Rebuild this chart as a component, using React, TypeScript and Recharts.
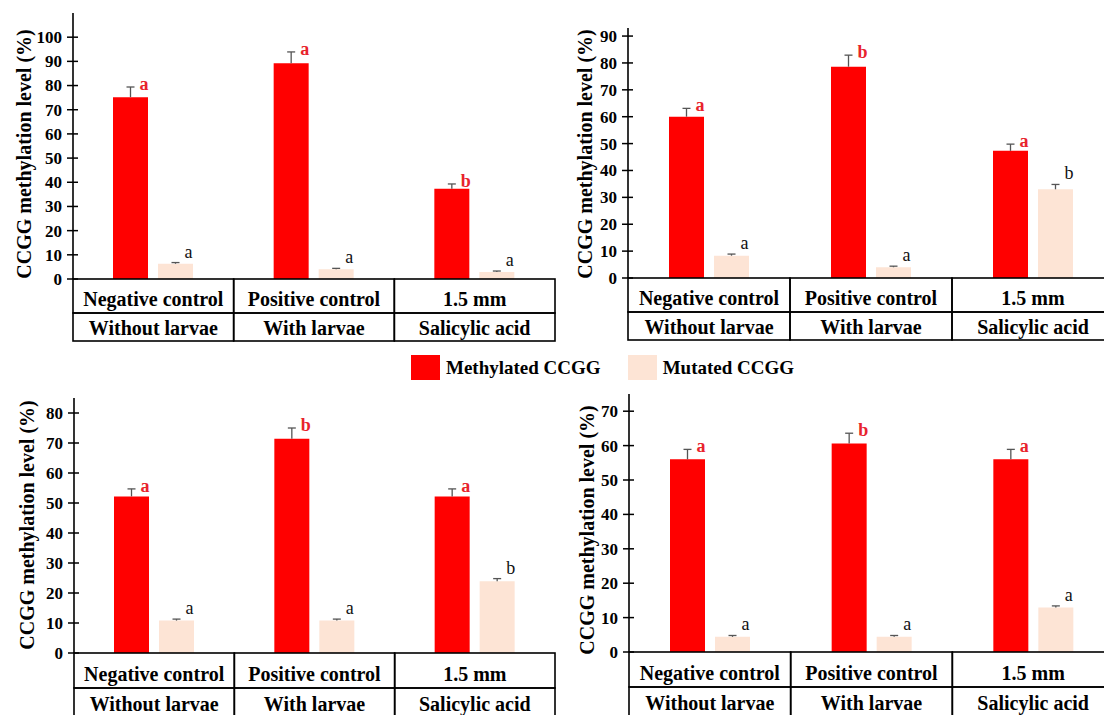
import React from "react";
import { BarChart, Bar, XAxis, YAxis, LabelList, Label } from "recharts";

const FONT = '"Liberation Serif", "Times New Roman", serif';
const RED = "#ff0000";
const PEACH = "#fde4d5";
const LETTER_RED = "#e8232c";

const categories = ["Negative control", "Positive control", "1.5 mm"];
const subCategories = ["Without larvae", "With larvae", "Salicylic acid"];
const seriesNames = ["Methylated CCGG", "Mutated CCGG"];
const yAxisTitle = "CCGG methylation level (%)";

// top left
const p1Methylated = [75.2, 89.2, 37.3];
const p1MethylatedErr = [4.2, 4.7, 2.0];
const p1Mutated = [6.3, 4.0, 2.9];
const p1MutatedErr = [0.5, 0.4, 0.4];
const p1MethylLetters = ["a", "a", "b"];
const p1MutLetters = ["a", "a", "a"];
const p1Ticks = [0, 10, 20, 30, 40, 50, 60, 70, 80, 90, 100];

// top right
const p2Methylated = [60.0, 78.6, 47.3];
const p2MethylatedErr = [3.1, 4.3, 2.5];
const p2Mutated = [8.3, 4.0, 33.0];
const p2MutatedErr = [0.6, 0.4, 1.8];
const p2MethylLetters = ["a", "b", "a"];
const p2MutLetters = ["a", "a", "b"];
const p2Ticks = [0, 10, 20, 30, 40, 50, 60, 70, 80, 90];

// bottom left
const p3Methylated = [52.2, 71.4, 52.2];
const p3MethylatedErr = [2.5, 3.6, 2.5];
const p3Mutated = [10.8, 10.8, 23.9];
const p3MutatedErr = [0.5, 0.5, 0.9];
const p3MethylLetters = ["a", "b", "a"];
const p3MutLetters = ["a", "a", "b"];
const p3Ticks = [0, 10, 20, 30, 40, 50, 60, 70, 80];

// bottom right
const p4Methylated = [56.0, 60.6, 56.0];
const p4MethylatedErr = [2.9, 3.0, 2.9];
const p4Mutated = [4.4, 4.4, 12.9];
const p4MutatedErr = [0.4, 0.4, 0.5];
const p4MethylLetters = ["a", "b", "a"];
const p4MutLetters = ["a", "a", "a"];
const p4Ticks = [0, 10, 20, 30, 40, 50, 60, 70];

type Row = {
  name: string;
  methylated: number;
  methylatedErr: number;
  mutated: number;
  mutatedErr: number;
  methylLetter: string;
  mutLetter: string;
};

function buildRows(
  meth: number[],
  methErr: number[],
  mut: number[],
  mutErr: number[],
  methL: string[],
  mutL: string[]
): Row[] {
  return categories.map((name, i) => ({
    name,
    methylated: meth[i],
    methylatedErr: methErr[i],
    mutated: mut[i],
    mutatedErr: mutErr[i],
    methylLetter: methL[i],
    mutLetter: mutL[i],
  }));
}

const TICK_SIZE = 6;
const TICK_MARGIN = 5;

function YTick(props: any) {
  const { x, y, payload } = props;
  const axisX = x + TICK_SIZE + TICK_MARGIN;
  return (
    <g>
      <line x1={axisX - 6} x2={axisX + 5} y1={y} y2={y} stroke="#000" strokeWidth={1.5} />
      <text
        x={x}
        y={y}
        dy="0.35em"
        textAnchor="end"
        fontFamily={FONT}
        fontWeight="bold"
        fontSize={17}
        fill="#000"
      >
        {payload.value}
      </text>
    </g>
  );
}

function tableTick(rowH: [number, number]) {
  return (props: any) => {
    const { x, y, payload, width, index } = props;
    const band = payload && payload.offset ? payload.offset * 2 : width / categories.length;
    const left = x - band / 2;
    const textStyle = { fontFamily: FONT, fontWeight: "bold" as const, fontSize: 20 };
    return (
      <g>
        <rect x={left} y={y} width={band} height={rowH[0]} fill="none" stroke="#000" strokeWidth={1.6} />
        <rect x={left} y={y + rowH[0]} width={band} height={rowH[1]} fill="none" stroke="#000" strokeWidth={1.6} />
        <text x={x} y={y + rowH[0] - 7} textAnchor="middle" fill="#000" style={textStyle}>
          {payload.value}
        </text>
        <text x={x} y={y + rowH[0] + rowH[1] - 6} textAnchor="middle" fill="#000" style={textStyle}>
          {subCategories[index]}
        </text>
      </g>
    );
  };
}

// upper whisker + significance letter, placed from the bar's own geometry
function errAndLetter(rows: Row[], key: "methylated" | "mutated") {
  return (props: any) => {
    const { x, y, width, height, index } = props;
    const row = rows[index];
    if (!row) return null;
    const val = row[key];
    const err = key === "methylated" ? row.methylatedErr : row.mutatedErr;
    const topY = y - (err * height) / val;
    const cx = x + width / 2;
    const red = key === "methylated";
    return (
      <g>
        <line x1={cx} x2={cx} y1={y} y2={topY} stroke="#555" strokeWidth={1.3} />
        <line x1={cx - 4} x2={cx + 4} y1={topY} y2={topY} stroke="#555" strokeWidth={1.3} />
        <text
          x={cx + 9}
          y={red ? topY + 3 : topY - 5}
          fontFamily={FONT}
          fontWeight={red ? "bold" : "normal"}
          fontSize={18}
          fill={red ? LETTER_RED : "#111"}
        >
          {red ? row.methylLetter : row.mutLetter}
        </text>
      </g>
    );
  };
}

type PanelProps = {
  rows: Row[];
  ticks: number[];
  max: number;
  left: number;
  top: number;
  height: number;
  margin: { top: number; right: number; bottom: number; left: number };
  yWidth: number;
  rowH: [number, number];
  labelPos: [number, number];
};

function Panel({ rows, ticks, max, left, top, height, margin, yWidth, rowH, labelPos }: PanelProps) {
  return (
    <div style={{ position: "absolute", left, top }}>
      <BarChart width={560} height={height} data={rows} margin={margin} barGap={10}>
        <XAxis
          dataKey="name"
          interval={0}
          axisLine={false}
          tickLine={false}
          tickSize={0}
          tickMargin={0}
          height={64}
          tick={tableTick(rowH)}
        />
        <YAxis
          type="number"
          domain={[0, max]}
          ticks={ticks}
          interval={0}
          width={yWidth}
          tickSize={TICK_SIZE}
          tickMargin={TICK_MARGIN}
          tickLine={false}
          axisLine={{ stroke: "#000", strokeWidth: 1.6 }}
          tick={<YTick />}
        >
          <Label
            content={() => (
              <text
                transform={`translate(${labelPos[0]},${labelPos[1]}) rotate(-90)`}
                textAnchor="middle"
                dominantBaseline="central"
                fontFamily={FONT}
                fontWeight="bold"
                fontSize={20}
                fill="#000"
              >
                {yAxisTitle}
              </text>
            )}
          />
        </YAxis>
        <Bar dataKey="methylated" name={seriesNames[0]} fill={RED} barSize={35} isAnimationActive={false}>
          <LabelList dataKey="methylLetter" content={errAndLetter(rows, "methylated")} />
        </Bar>
        <Bar dataKey="mutated" name={seriesNames[1]} fill={PEACH} barSize={35} isAnimationActive={false}>
          <LabelList dataKey="mutLetter" content={errAndLetter(rows, "mutated")} />
        </Bar>
      </BarChart>
    </div>
  );
}

const legendColors = [RED, PEACH];

export default function App() {
  const rows1 = buildRows(p1Methylated, p1MethylatedErr, p1Mutated, p1MutatedErr, p1MethylLetters, p1MutLetters);
  const rows2 = buildRows(p2Methylated, p2MethylatedErr, p2Mutated, p2MutatedErr, p2MethylLetters, p2MutLetters);
  const rows3 = buildRows(p3Methylated, p3MethylatedErr, p3Mutated, p3MutatedErr, p3MethylLetters, p3MutLetters);
  const rows4 = buildRows(p4Methylated, p4MethylatedErr, p4Mutated, p4MutatedErr, p4MethylLetters, p4MutLetters);

  return (
    <div
      style={{
        position: "absolute",
        left: 0,
        top: 0,
        width: 1104,
        height: 715,
        overflow: "hidden",
        background: "#fff",
      }}
    >
      <Panel
        rows={rows1}
        ticks={p1Ticks}
        max={110}
        left={0}
        top={0}
        height={350}
        margin={{ top: 13, right: 5, bottom: 7, left: 0 }}
        yWidth={73}
        rowH={[34, 28]}
        labelPos={[24, 154]}
      />
      <Panel
        rows={rows2}
        ticks={p2Ticks}
        max={93}
        left={560}
        top={0}
        height={350}
        margin={{ top: 28, right: 6, bottom: 8, left: 0 }}
        yWidth={68}
        rowH={[34, 28]}
        labelPos={[25, 154]}
      />
      <Panel
        rows={rows3}
        ticks={p3Ticks}
        max={85}
        left={0}
        top={350}
        height={370}
        margin={{ top: 48, right: 5, bottom: 3, left: 0 }}
        yWidth={74}
        rowH={[35, 29]}
        labelPos={[27, 175]}
      />
      <Panel
        rows={rows4}
        ticks={p4Ticks}
        max={75}
        left={560}
        top={350}
        height={370}
        margin={{ top: 44, right: 6, bottom: 4, left: 0 }}
        yWidth={69}
        rowH={[35, 29]}
        labelPos={[27, 180]}
      />
      <div
        style={{
          position: "absolute",
          left: 411,
          top: 355,
          display: "flex",
          alignItems: "center",
          gap: 27,
          fontFamily: FONT,
          fontWeight: "bold",
          fontSize: 19,
          color: "#000",
        }}
      >
        {seriesNames.map((name, i) => (
          <div key={name} style={{ display: "flex", alignItems: "center" }}>
            <span
              style={{
                display: "inline-block",
                width: 29,
                height: 25,
                background: legendColors[i],
                marginRight: 6,
              }}
            />
            <span style={{ lineHeight: "25px" }}>{name}</span>
          </div>
        ))}
      </div>
    </div>
  );
}
